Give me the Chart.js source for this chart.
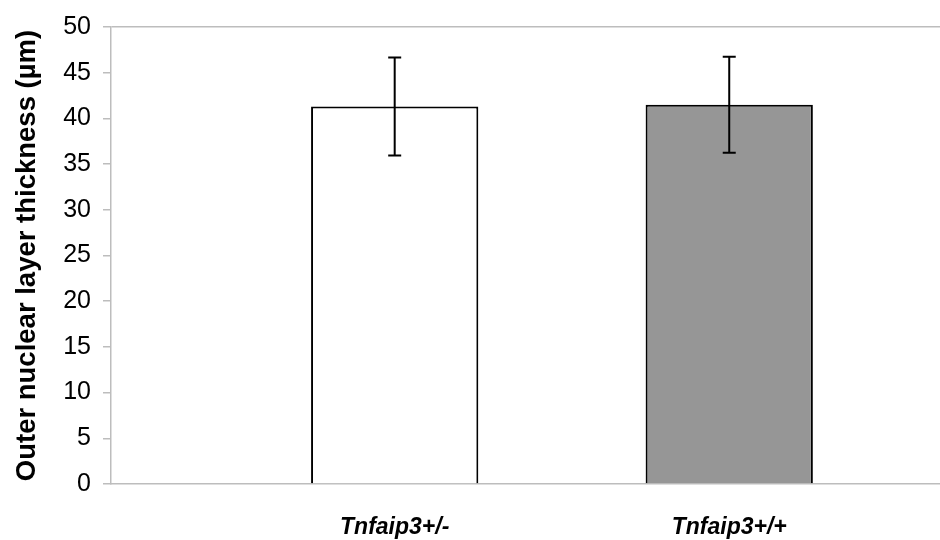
<!DOCTYPE html>
<html>
<head>
<meta charset="utf-8">
<script src="https://cdn.jsdelivr.net/npm/chart.js@4/dist/chart.umd.min.js"></script>
<style>
  html, body { margin: 0; padding: 0; background: #fff; }
  #wrap { width: 940px; height: 540px; }
</style>
</head>
<body>
<div id="wrap"><canvas id="canvas" width="940" height="540"></canvas></div>
<script>
// values
var categories = ['Tnfaip3+/-', 'Tnfaip3+/+'];
var means = [41.3, 41.5];
var errors = [5.35, 5.25];
var barColors = ['#ffffff', '#969696'];
var yTicks = [0, 5, 10, 15, 20, 25, 30, 35, 40, 45, 50];

var points = [];
for (var i = 0; i < categories.length; i++) {
    points.push({ x: i + 1, y: means[i] });
}

// error bars drawn through the chart's own scales
var errorBars = {
    id: 'errorBars',
    afterDatasetsDraw: function (chart) {
        var ctx = chart.ctx;
        var xs = chart.scales.x, ys = chart.scales.y;
        ctx.save();
        ctx.strokeStyle = '#000';
        ctx.lineWidth = 2;
        for (var i = 0; i < means.length; i++) {
            var px = xs.getPixelForValue(i + 1);
            var top = ys.getPixelForValue(means[i] + errors[i]);
            var bot = ys.getPixelForValue(means[i] - errors[i]);
            ctx.beginPath();
            ctx.moveTo(px, top);
            ctx.lineTo(px, bot);
            ctx.moveTo(px - 6.5, top);
            ctx.lineTo(px + 6.5, top);
            ctx.moveTo(px - 6.5, bot);
            ctx.lineTo(px + 6.5, bot);
            ctx.stroke();
        }
        ctx.restore();
    }
};

var ctx = document.getElementById('canvas').getContext('2d');
var myChart = new Chart(ctx, {
    type: 'bar',
    data: {
        datasets: [{
            data: points,
            backgroundColor: barColors,
            borderColor: '#000',
            borderWidth: 2,
            barPercentage: 0.5,
            categoryPercentage: 1.0
        }]
    },
    options: {
        responsive: false,
        animation: false,
        layout: { padding: { top: 23, right: 0, bottom: 0, left: 0 } },
        plugins: {
            legend: { display: false },
            tooltip: { enabled: false }
        },
        scales: {
            x: {
                type: 'linear',
                offset: false,
                min: 0.152,
                max: 2.63,
                afterBuildTicks: function (scale) {
                    scale.ticks = categories.map(function (c, i) { return { value: i + 1 }; });
                },
                afterFit: function (scale) { scale.height = 56; },
                grid: { display: false },
                border: { display: true, color: '#bdbdbd', width: 1.5 },
                ticks: {
                    autoSkip: false,
                    maxRotation: 0,
                    padding: 22,
                    color: '#000',
                    font: { family: 'Liberation Sans, Arial', size: 23, weight: 'bold', style: 'italic' },
                    callback: function (v) { return categories[v - 1]; }
                }
            },
            y: {
                min: 0,
                max: 50,
                afterBuildTicks: function (scale) {
                    scale.ticks = yTicks.map(function (v) { return { value: v }; });
                },
                afterFit: function (scale) { scale.width = 111; },
                grid: {
                    color: function (c) { return c.tick && c.tick.value === 50 ? '#bdbdbd' : 'rgba(0,0,0,0)'; },
                    tickColor: '#bdbdbd',
                    tickLength: 8,
                    lineWidth: 1.5
                },
                border: { display: true, color: '#bdbdbd', width: 1.5 },
                ticks: {
                    padding: 12,
                    color: '#000',
                    font: { family: 'Liberation Sans, Arial', size: 25 }
                },
                title: {
                    display: true,
                    text: 'Outer nuclear layer thickness (µm)',
                    color: '#000',
                    padding: { top: 11, bottom: 0 },
                    font: { family: 'Liberation Sans, Arial', size: 27.5, weight: 'bold' }
                }
            }
        }
    },
    plugins: [errorBars]
});
</script>
</body>
</html>
